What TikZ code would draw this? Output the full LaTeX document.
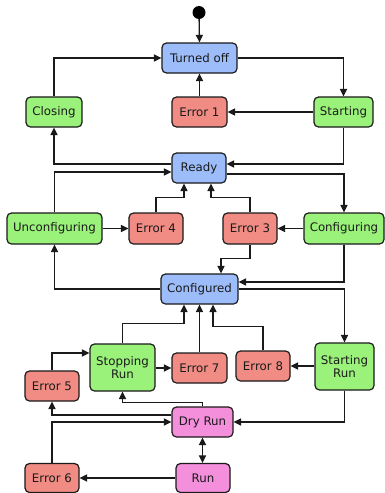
\documentclass[tikz,border=0pt]{standalone}
\usepackage{fontspec}
\setmainfont{DejaVu Sans}
\usetikzlibrary{arrows.meta,calc}
\definecolor{stblue}{HTML}{9DBDFA}
\definecolor{stgreen}{HTML}{9BF27A}
\definecolor{stred}{HTML}{F08C84}
\definecolor{stpink}{HTML}{F48FDC}
\definecolor{ink}{HTML}{1A1A1A}
\tikzset{
  state/.style={draw=ink, line width=1.2pt, rounded corners=4.5pt, inner sep=0pt,
    align=center, text=ink, font=\fontsize{11.8}{13.5}\selectfont, minimum height=30pt},
  blue/.style={state, fill=stblue},
  green/.style={state, fill=stgreen},
  red/.style={state, fill=stred},
  pink/.style={state, fill=stpink},
  tip/.tip={Triangle[length=7.5pt,width=7pt]},
  arr/.style={line width=1.3pt, draw=ink, -tip},
  darr/.style={line width=1.3pt, draw=ink, tip-tip}
}
\begin{document}
\begin{tikzpicture}[x=1pt,y=-1pt]
\useasboundingbox (0,0) rectangle (385,493);
\fill[white] (0,0) rectangle (385,493);

% states
\node[circle, fill=black, minimum size=13pt, inner sep=0pt] (init) at (199,12.5) {};
\node[blue,  minimum width=75pt] (turnedoff)   at (199.5,58)  {Turned off};
\node[green, minimum width=56pt] (closing)     at (54,112)    {Closing};
\node[red,   minimum width=55pt] (err1)        at (199.5,112) {Error 1};
\node[green, minimum width=59pt] (starting)    at (343.5,112) {Starting};
\node[blue,  minimum width=54pt] (ready)       at (199,168)   {Ready};
\node[green, minimum width=95pt, minimum height=31pt] (unconf) at (54.5,228.5) {Unconfiguring};
\node[red,   minimum width=54pt, minimum height=31pt] (err4)   at (156,228.5)  {Error 4};
\node[red,   minimum width=54pt, minimum height=31pt] (err3)   at (250,228.5)  {Error 3};
\node[green, minimum width=80pt, minimum height=31pt] (configuring) at (344,228.5) {Configuring};
\node[blue,  minimum width=77pt] (configured)  at (199.5,289) {Configured};
\node[green, minimum width=65pt, minimum height=47pt] (stopping) at (122.5,367.5) {Stopping\\Run};
\node[red,   minimum width=55pt] (err7)        at (199.5,368) {Error 7};
\node[red,   minimum width=54pt] (err8)        at (263,366)   {Error 8};
\node[green, minimum width=59pt, minimum height=47pt] (startrun) at (344.5,366.5) {Starting\\Run};
\node[red,   minimum width=54pt] (err5)        at (52,386)    {Error 5};
\node[pink,  minimum width=61pt] (dryrun)      at (202.5,422) {Dry Run};
\node[pink,  minimum width=54pt, minimum height=29pt] (run)  at (203,478) {Run};
\node[red,   minimum width=54pt, minimum height=29pt] (err6) at (52,478)  {Error 6};

% transitions
\draw[arr] (init) -- (turnedoff.north);
\draw[arr] (turnedoff.east) -| (starting.north);
\draw[arr] (closing.north) |- (turnedoff.west);
\draw[arr] (err1.north) -- (turnedoff.south);
\draw[arr] (starting.west) -- (err1.east);
\draw[arr] (starting.south) |- ($(ready.east)+(0,-4)$);
\draw[arr] ($(ready.west)+(0,-4)$) -| (closing.south);
\draw[arr] (unconf.north) |- ($(ready.west)+(0,4)$);
\draw[arr] ($(ready.east)+(0,6)$) -| (configuring.north);
\draw[arr] (unconf.east) -- (err4.west);
\draw[arr] (err4.north) -- ++(0,-15) -| ($(ready.south)+(-15,0)$);
\draw[arr] (err3.north) -- ++(0,-15) -| ($(ready.south)+(12,0)$);
\draw[arr] (configuring.west) -- (err3.east);
\draw[arr] (err3.south) -- ++(0,14) -| ($(configured.north)+(21.5,0)$);
\draw[arr] (configuring.south) |- ($(configured.east)+(0,-7)$);
\draw[arr] (configured.west) -| (unconf.south);
\draw[arr] (configured.east) -| (startrun.north);
\draw[arr] (stopping.north) -- ++(0,-20) -| ($(configured.south)+(-15.5,0)$);
\draw[arr] (err7.north) -- (configured.south);
\draw[arr] (err8.north) -- ++(0,-24) -| ($(configured.south)+(13.5,0)$);
\draw[arr] (stopping.east |- err7.west) -- (err7.west);
\draw[arr] (startrun.west |- err8.east) -- (err8.east);
\draw[arr] (err5.north) |- ($(stopping.west)+(0,-14.5)$);
\draw[arr] (dryrun.north) -- ++(0,-4) -| (stopping.south);
\draw[arr] ($(dryrun.west)+(0,-7)$) -| (err5.south);
\draw[arr] (err6.north) |- (dryrun.west);
\draw[arr] (startrun.south) |- (dryrun.east);
\draw[darr] (dryrun.south) -- (dryrun.south |- run.north);
\draw[arr] (run.west) -- (err6.east);
\end{tikzpicture}
\end{document}
